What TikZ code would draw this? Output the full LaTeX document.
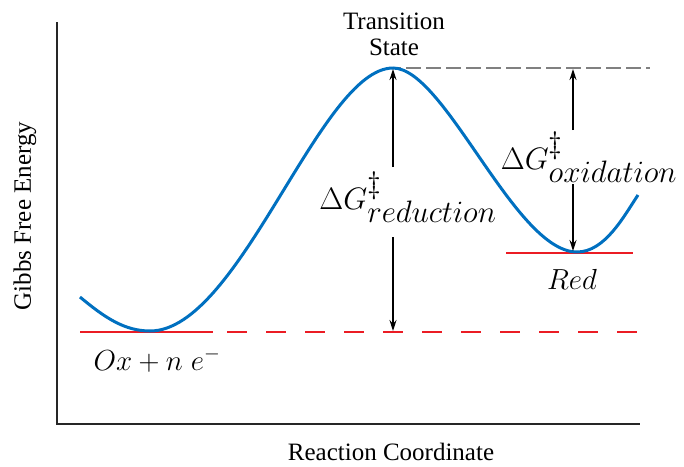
\documentclass[tikz,border=0pt]{standalone}
\usepackage{fix-cm}
\usepackage{fontspec}
\setmainfont{Liberation Serif}
\usetikzlibrary{arrows.meta}
\definecolor{curveblue}{RGB}{0,112,192}
\definecolor{levelred}{RGB}{235,28,36}
\definecolor{guidegray}{RGB}{128,128,128}
\tikzset{
  axisline/.style={line width=2pt, draw=black!85},
  energy/.style={line width=3pt, draw=curveblue},
  level/.style={line width=1.6pt, draw=levelred},
  guide/.style={line width=1.6pt, draw=guidegray, dash pattern=on 15pt off 5pt},
  barrier/.style={line width=1.2pt, draw=black, -{Stealth[length=11pt,width=7pt]}},
  axislabel/.style={font=\fontsize{25}{30}\selectfont, inner sep=0pt},
  statelabel/.style={font=\fontsize{29}{34}\selectfont, inner sep=0pt},
  bigmath/.style={font=\fontsize{31}{36}\selectfont, inner sep=0pt}
}
\begin{document}
\begin{tikzpicture}[x=1pt,y=-1pt]
\useasboundingbox (0,0) rectangle (684,466);
% axes
\coordinate (ytop) at (57,22);
\coordinate (origin) at (57,424);
\coordinate (xend) at (640,424);
\draw[axisline] (ytop) -- (origin) -- (xend);
\node[axislabel, rotate=90] (ylab) at (25,216) {Gibbs Free Energy};
\node[axislabel] (xlab) at (391,452) {Reaction Coordinate};
% key points
\coordinate (start) at (80,297);
\coordinate (oxmin) at (150,331);
\coordinate (peak) at (393,68);
\coordinate (redmin) at (577,252);
\coordinate (finish) at (638,195);
% levels
\coordinate (oxL) at (80,332);
\coordinate (oxR) at (213,332);
\coordinate (dashL) at (227,332);
\coordinate (dashR) at (640,332);
\draw[level] (oxL) -- (oxR);
\draw[level, dash pattern=on 20pt off 19pt] (dashL) -- (dashR);
\coordinate (redL) at (506,253);
\coordinate (redR) at (633,253);
\draw[level] (redL) -- (redR);
\coordinate (tsL) at (386,68);
\coordinate (tsR) at (650,68);
\draw[guide] (tsL) -- (tsR);
% energy curve
\draw[energy] (start) .. controls (105,318) and (125,331) .. (oxmin)
  .. controls (240,331) and (320,68) .. (peak)
  .. controls (445,68) and (515,252) .. (redmin)
  .. controls (605,252) and (624,216) .. (finish);
% labels
\node[font=\fontsize{25}{29}\selectfont, align=center, inner sep=0pt] (ts) at (394,34) {Transition\\[-3pt]State};
\node[bigmath] (dgred) at (408,197) {$\Delta G^{\textstyle\ddagger}_{\textstyle reduction}$};
\node[bigmath] (dgox) at (589,157) {$\Delta G^{\textstyle\ddagger}_{\textstyle oxidation}$};
\node[statelabel] (red) at (572,279) {$Red$};
\node[statelabel] (ox) at (157,360) {$Ox+n\;e^{-}$};
% barrier arrows
\coordinate (a1top) at (393,69);
\coordinate (a1up) at (393,167);
\coordinate (a1dn) at (393,237);
\coordinate (a1bot) at (393,331);
\draw[barrier] (a1up) -- (a1top);
\draw[barrier] (a1dn) -- (a1bot);
\coordinate (a2top) at (573,69);
\coordinate (a2up) at (573,130);
\coordinate (a2dn) at (573,184);
\coordinate (a2bot) at (573,251);
\draw[barrier] (a2up) -- (a2top);
\draw[barrier] (a2dn) -- (a2bot);
\end{tikzpicture}
\end{document}
